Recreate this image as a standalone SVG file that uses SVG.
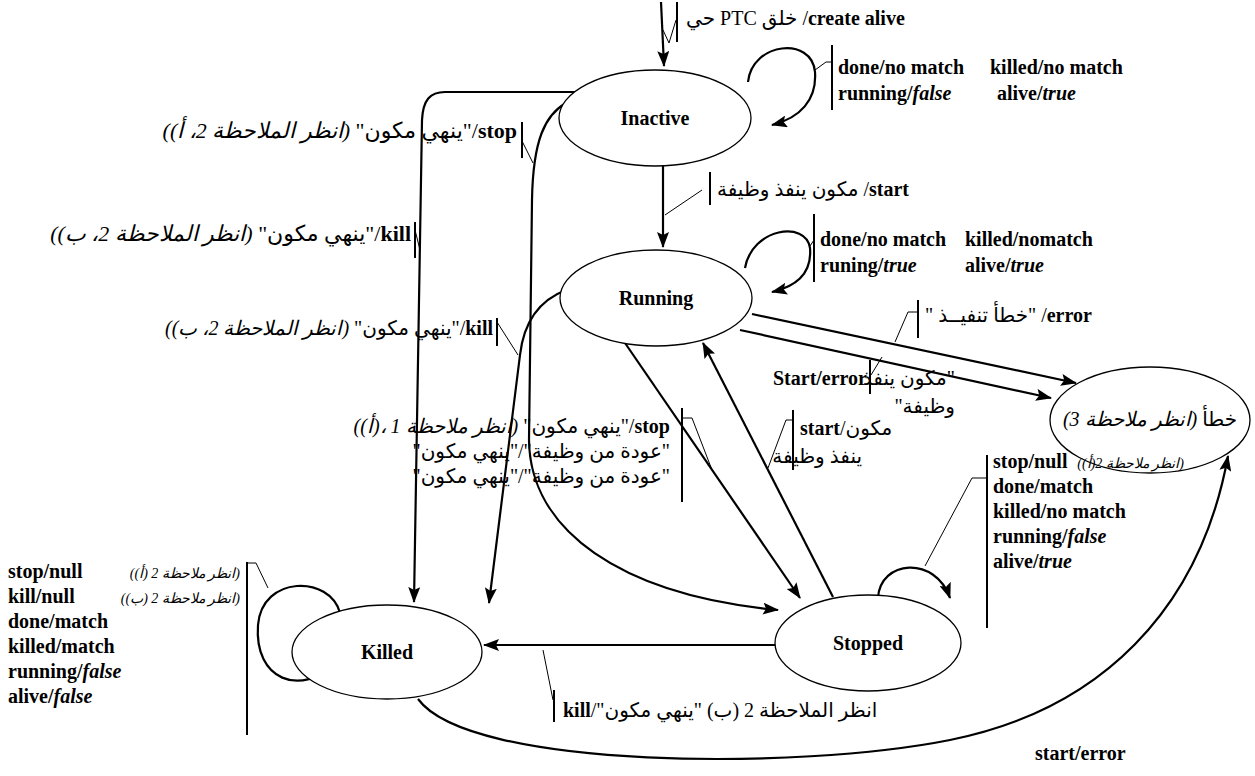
<svg xmlns="http://www.w3.org/2000/svg" width="1255" height="776" viewBox="0 0 1255 776">
<defs>
<style>
.t{font-family:"Liberation Serif","DejaVu Sans",serif;font-size:20px;fill:#000}
.b{font-weight:bold}
.i{font-style:italic}
.s{font-size:14px}
.big{font-size:22px}
.rtl{direction:rtl;unicode-bidi:embed}
.node{fill:#fff;stroke:#000;stroke-width:1.3}
.e{fill:none;stroke:#000;stroke-width:2.2}
.thin{fill:none;stroke:#000;stroke-width:1}
.bar{stroke:#000;stroke-width:2}
</style>
<marker id="ah" markerUnits="userSpaceOnUse" markerWidth="16" markerHeight="12" refX="15" refY="6" orient="auto">
<path d="M0,0 L16,6 L0,12 L3,6 z" fill="#000"/>
</marker>
</defs>
<rect width="1255" height="776" fill="#fff"/>

<g id="connectors">
<path class="e" d="M661,2 L664,66" marker-end="url(#ah)"/>
<path class="e" d="M748,82 C752,42 812,36 815,72 C817,100 800,118 772,125" marker-end="url(#ah)"/>
<path class="e" d="M663,166 L663,247" marker-end="url(#ah)"/>
<path class="e" d="M745,268 C752,228 806,220 810,248 C812,272 798,286 772,292" marker-end="url(#ah)"/>
<path class="e" d="M588,92 L445,92 C430,92 423,100 422,120 L414,602" marker-end="url(#ah)"/>
<path class="e" d="M566,103 C545,115 533,140 532,200 L529,440 C530,530 620,595 778,610" marker-end="url(#ah)"/>
<path class="e" d="M566,290 C540,300 524,320 520,355 L489,603" marker-end="url(#ah)"/>
<path class="e" d="M625,343 L800,598" marker-end="url(#ah)"/>
<path class="e" d="M833,597 L703,343" marker-end="url(#ah)"/>
<path class="e" d="M776,645 L484,645" marker-end="url(#ah)"/>
<path class="e" d="M752,314 L1076,383" marker-end="url(#ah)"/>
<path class="e" d="M740,330 L1051,398" marker-end="url(#ah)"/>
<path class="e" d="M418,699 C470,770 800,770 950,740 C1100,710 1200,610 1228,456" marker-end="url(#ah)"/>
<path class="e" d="M340,613 C330,575 262,575 258,625 C254,680 300,698 338,662" marker-end="url(#ah)"/>
<path class="e" d="M878,598 C880,560 935,555 950,598" marker-end="url(#ah)"/>
<!-- label leader lines -->
<path class="thin" d="M663,30 L669,43 L676,20"/>
<path class="thin" d="M815,70 L826,62 L832,62"/>
<path class="thin" d="M810,246 L814,240"/>
<path class="thin" d="M522,141 L533,163"/>
<path class="thin" d="M415,230 L420,250"/>
<path class="thin" d="M497,322 L518,355"/>
<path class="thin" d="M918,312 L908,312 L895,342"/>
<path class="thin" d="M871,375 L882,357"/>
<path class="thin" d="M793,420 L786,420 L768,468"/>
<path class="thin" d="M682,418 L692,418 L712,470"/>
<path class="thin" d="M925,566 L972,478 L987,478"/>
<path class="thin" d="M247,563 L256,563 L268,588"/>
<path class="thin" d="M553,700 L543,650"/>
<path class="thin" d="M702,190 L665,215"/>
<!-- label bars -->
<line class="bar" x1="677" y1="2" x2="677" y2="42"/>
<line class="bar" x1="832" y1="45" x2="832" y2="110"/>
<line class="bar" x1="522" y1="122" x2="522" y2="158"/>
<line class="bar" x1="415" y1="222" x2="415" y2="258"/>
<line class="bar" x1="710" y1="172" x2="710" y2="205"/>
<line class="bar" x1="814" y1="214" x2="814" y2="282"/>
<line class="bar" x1="497" y1="318" x2="497" y2="346"/>
<line class="bar" x1="918" y1="300" x2="918" y2="338"/>
<line class="bar" x1="870" y1="360" x2="870" y2="394"/>
<line class="bar" x1="793" y1="410" x2="793" y2="470"/>
<line class="bar" x1="682" y1="408" x2="682" y2="502"/>
<line class="bar" x1="987" y1="455" x2="987" y2="628"/>
<line class="bar" x1="247" y1="562" x2="247" y2="735"/>
<line class="bar" x1="554" y1="690" x2="554" y2="722"/>
</g>

<g id="inactive">
<ellipse class="node" cx="655" cy="118" rx="96" ry="48"/>
<text class="t b" x="655" y="125" text-anchor="middle">Inactive</text>
</g>
<g id="running">
<ellipse class="node" cx="656" cy="298" rx="96" ry="48"/>
<text class="t b" x="656" y="305" text-anchor="middle">Running</text>
</g>
<g id="killed">
<ellipse class="node" cx="387" cy="652" rx="95" ry="47"/>
<text class="t b" x="387" y="659" text-anchor="middle">Killed</text>
</g>
<g id="stopped">
<ellipse class="node" cx="868" cy="643" rx="93" ry="48"/>
<text class="t b" x="868" y="650" text-anchor="middle">Stopped</text>
</g>
<g id="error">
<ellipse class="node" cx="1150" cy="420" rx="100" ry="53"/>
<text class="t rtl" x="1150" y="426" text-anchor="middle" font-size="17">خطأ <tspan class="i">(انظر ملاحظة 3)</tspan></text>
</g>

<g id="labels">
<text class="t rtl" x="686" y="25" text-anchor="end"><tspan class="b">create alive</tspan>/ خلق PTC حي</text>

<text class="t b" x="838" y="74">done/no match</text>
<text class="t b" x="990" y="74">killed/no match</text>
<text class="t b" x="838" y="100">running/<tspan class="i">false</tspan></text>
<text class="t b" x="997" y="100">alive/<tspan class="i">true</tspan></text>

<text class="t big rtl" x="517" y="138" text-anchor="start"><tspan class="b">stop</tspan>/"ينهي مكون" <tspan class="i">(انظر الملاحظة 2، أ))</tspan></text>
<text class="t big rtl" x="411" y="241" text-anchor="start"><tspan class="b">kill</tspan>/"ينهي مكون" <tspan class="i">(انظر الملاحظة 2، ب))</tspan></text>

<text class="t rtl" x="717" y="196" text-anchor="end"><tspan class="b">start</tspan>/ مكون ينفذ وظيفة</text>

<text class="t b" x="820" y="246">done/no match</text>
<text class="t b" x="965" y="246">killed/nomatch</text>
<text class="t b" x="820" y="272">runing/<tspan class="i">true</tspan></text>
<text class="t b" x="965" y="272">alive/<tspan class="i">true</tspan></text>

<text class="t rtl" x="493" y="335" text-anchor="start" font-size="21"><tspan class="b">kill</tspan>/"ينهي مكون" <tspan class="i">(انظر الملاحظة 2، ب))</tspan></text>

<text class="t rtl" x="925" y="322" text-anchor="end"><tspan class="b">error</tspan>/  "خطأ تنفيــذ "</text>

<text class="t b" x="867" y="385" text-anchor="end">Start/error</text>
<text class="t rtl" x="955" y="385" text-anchor="start">"مكون ينفذ</text>
<text class="t rtl" x="955" y="413" text-anchor="start">وظيفة"</text>

<text class="t" x="800" y="435"><tspan class="b">start</tspan>/مكون</text>
<text class="t rtl" x="862" y="463" text-anchor="start">ينفذ وظيفة</text>

<text class="t rtl" x="670" y="433" text-anchor="start"><tspan class="b">stop</tspan>/"ينهي مكون" <tspan class="i">(انظر ملاحظة 1 ،(أ))</tspan></text>
<text class="t rtl" x="670" y="458" text-anchor="start">"عودة من وظيفة"/"ينهي مكون"</text>
<text class="t rtl" x="670" y="483" text-anchor="start">"عودة من وظيفة"/"ينهي مكون"</text>

<text class="t b" x="993" y="468">stop/null</text>
<text class="t i s rtl" x="1184" y="468" text-anchor="start">(انظر ملاحظة 2(أ))</text>
<text class="t b" x="993" y="493">done/match</text>
<text class="t b" x="993" y="518">killed/no match</text>
<text class="t b" x="993" y="543">running/<tspan class="i">false</tspan></text>
<text class="t b" x="993" y="568">alive/<tspan class="i">true</tspan></text>

<text class="t b" x="8" y="578">stop/null</text>
<text class="t i s rtl" x="240" y="578" text-anchor="start">(انظر ملاحظة 2 (أ))</text>
<text class="t b" x="8" y="603">kill/null</text>
<text class="t i s rtl" x="240" y="603" text-anchor="start">(انظر ملاحظة 2 (ب))</text>
<text class="t b" x="8" y="628">done/match</text>
<text class="t b" x="8" y="653">killed/match</text>
<text class="t b" x="8" y="678">running/<tspan class="i">false</tspan></text>
<text class="t b" x="8" y="703">alive/<tspan class="i">false</tspan></text>

<text class="t rtl" x="563" y="717" text-anchor="end">انظر الملاحظة 2 (ب) "ينهي مكون"/<tspan class="b">kill</tspan></text>

<text class="t b" x="1035" y="760">start/error</text>
</g>
</svg>
